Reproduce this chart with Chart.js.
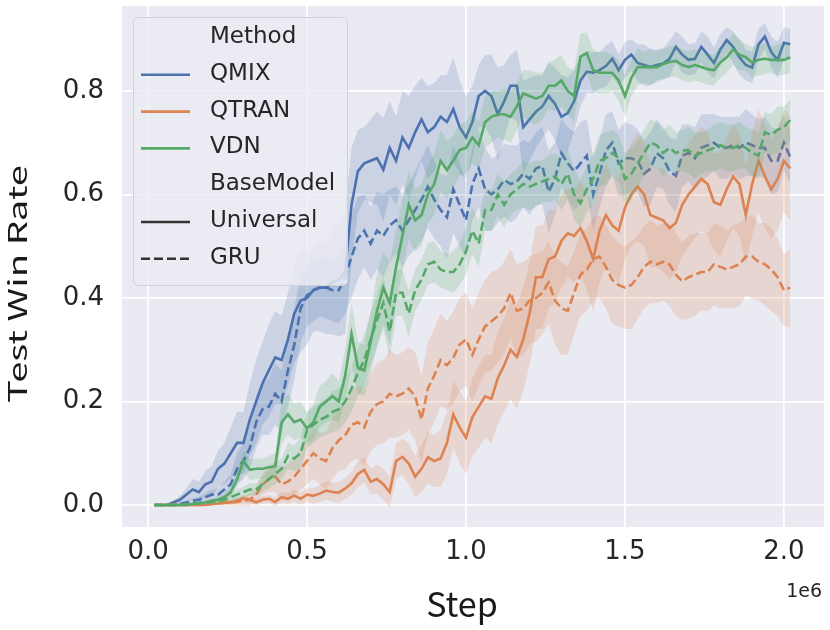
<!DOCTYPE html>
<html>
<head>
<meta charset="utf-8">
<script src="https://cdn.jsdelivr.net/npm/chart.js@4.4.1/dist/chart.umd.min.js"></script>
<style>
html,body{margin:0;padding:0;background:#ffffff;}
#wrap{width:830px;height:630px;}
</style>
</head>
<body>
<div id="wrap"><canvas id="c" width="830" height="630"></canvas></div>
<script>
// ---------------- data ----------------
const steps = [20000,40000,60000,80000,100000,120000,140000,160000,180000,200000,
220000,240000,260000,280000,300000,320000,340000,360000,380000,400000,
420000,440000,460000,480000,500000,520000,540000,560000,580000,600000,
620000,640000,660000,680000,700000,720000,740000,760000,780000,800000,
820000,840000,860000,880000,900000,920000,940000,960000,980000,1000000,
1020000,1040000,1060000,1080000,1100000,1120000,1140000,1160000,1180000,1200000,
1220000,1240000,1260000,1280000,1300000,1320000,1340000,1360000,1380000,1400000,
1420000,1440000,1460000,1480000,1500000,1520000,1540000,1560000,1580000,1600000,
1620000,1640000,1660000,1680000,1700000,1720000,1740000,1760000,1780000,1800000,
1820000,1840000,1860000,1880000,1900000,1920000,1940000,1960000,1980000,2000000,
2020000];

const xTicks = [0, 500000, 1000000, 1500000, 2000000];
const yTicks = [0.0, 0.2, 0.4, 0.6, 0.8];

const methods = ['QMIX', 'QTRAN', 'VDN'];
const baseModels = ['Universal', 'GRU'];

const qmixUniversal = [0,0,0,0.005,0.01,0.02,0.03,0.025,0.04,0.045,
0.07,0.08,0.1,0.12,0.12,0.165,0.2,0.235,0.26,0.285,
0.28,0.32,0.37,0.395,0.4,0.415,0.42,0.42,0.43,0.435,
0.45,0.58,0.645,0.66,0.665,0.67,0.648,0.69,0.665,0.71,
0.69,0.72,0.745,0.72,0.73,0.75,0.74,0.765,0.73,0.71,
0.74,0.79,0.8,0.79,0.755,0.78,0.81,0.81,0.73,0.745,
0.76,0.77,0.79,0.775,0.75,0.757,0.78,0.82,0.837,0.835,
0.84,0.848,0.862,0.84,0.86,0.87,0.854,0.85,0.846,0.85,
0.853,0.862,0.885,0.87,0.86,0.862,0.885,0.87,0.854,0.88,
0.898,0.885,0.865,0.85,0.845,0.89,0.905,0.875,0.86,0.893,
0.89];
const qmixGRU = [0,0,0,0,0.002,0.005,0.008,0.01,0.015,0.02,
0.02,0.03,0.04,0.07,0.085,0.11,0.16,0.185,0.19,0.215,
0.2,0.26,0.31,0.38,0.405,0.415,0.42,0.42,0.415,0.415,
0.44,0.48,0.515,0.53,0.505,0.53,0.52,0.54,0.55,0.53,
0.55,0.57,0.59,0.615,0.59,0.57,0.556,0.61,0.58,0.55,
0.62,0.65,0.61,0.6,0.61,0.628,0.62,0.625,0.64,0.63,
0.65,0.655,0.605,0.63,0.68,0.66,0.645,0.66,0.675,0.6,
0.64,0.685,0.7,0.66,0.67,0.67,0.665,0.64,0.65,0.68,
0.67,0.645,0.636,0.675,0.68,0.67,0.69,0.695,0.7,0.69,
0.69,0.695,0.69,0.7,0.695,0.69,0.69,0.665,0.665,0.7,
0.672];
const qtranUniversal = [0,0,0,0,0,0,0,0,0,0.002,
0.003,0.005,0.005,0.008,0.013,0.01,0.005,0.01,0.012,0.006,
0.015,0.012,0.018,0.012,0.02,0.018,0.022,0.028,0.025,0.024,
0.032,0.042,0.06,0.068,0.045,0.05,0.04,0.025,0.085,0.093,
0.08,0.055,0.07,0.092,0.085,0.09,0.12,0.175,0.15,0.13,
0.17,0.19,0.21,0.205,0.245,0.27,0.3,0.286,0.32,0.37,
0.44,0.44,0.475,0.48,0.51,0.525,0.52,0.535,0.51,0.475,
0.53,0.56,0.54,0.53,0.575,0.6,0.615,0.6,0.56,0.555,
0.55,0.535,0.545,0.58,0.6,0.615,0.63,0.62,0.585,0.58,
0.61,0.635,0.62,0.56,0.62,0.665,0.635,0.61,0.63,0.665,
0.65];
const qtranGRU = [0,0,0,0,0,0,0,0,0,0.002,
0.003,0.004,0.005,0.006,0.008,0.01,0.02,0.04,0.05,0.055,
0.04,0.045,0.055,0.07,0.085,0.1,0.09,0.085,0.11,0.125,
0.135,0.155,0.16,0.15,0.18,0.195,0.2,0.215,0.21,0.215,
0.225,0.21,0.165,0.225,0.25,0.28,0.27,0.285,0.31,0.32,
0.29,0.32,0.345,0.355,0.365,0.38,0.41,0.375,0.38,0.395,
0.4,0.41,0.43,0.395,0.38,0.375,0.41,0.445,0.455,0.475,
0.48,0.46,0.435,0.425,0.42,0.425,0.44,0.46,0.47,0.465,
0.47,0.465,0.445,0.432,0.44,0.445,0.45,0.45,0.465,0.46,
0.455,0.46,0.465,0.48,0.48,0.47,0.465,0.455,0.44,0.415,
0.42];
const vdnUniversal = [0,0,0,0,0,0,0.002,0.003,0.005,0.008,
0.01,0.015,0.025,0.05,0.085,0.068,0.07,0.07,0.073,0.075,
0.16,0.175,0.16,0.165,0.148,0.16,0.19,0.2,0.21,0.2,
0.25,0.33,0.265,0.26,0.315,0.375,0.42,0.39,0.46,0.52,
0.58,0.55,0.56,0.6,0.62,0.665,0.647,0.665,0.686,0.69,
0.71,0.695,0.74,0.75,0.755,0.755,0.75,0.77,0.795,0.79,
0.785,0.79,0.81,0.81,0.82,0.8,0.79,0.866,0.873,0.84,
0.835,0.835,0.835,0.82,0.79,0.825,0.846,0.846,0.846,0.846,
0.852,0.856,0.858,0.85,0.846,0.85,0.846,0.842,0.84,0.855,
0.865,0.88,0.87,0.865,0.855,0.86,0.862,0.86,0.86,0.86,
0.865];
const vdnGRU = [0,0,0,0,0,0.002,0.003,0.004,0.005,0.006,
0.008,0.01,0.015,0.02,0.025,0.03,0.03,0.04,0.05,0.06,
0.07,0.095,0.09,0.1,0.145,0.155,0.165,0.17,0.18,0.185,
0.2,0.225,0.255,0.28,0.32,0.357,0.39,0.335,0.41,0.41,
0.37,0.415,0.435,0.465,0.47,0.455,0.45,0.45,0.465,0.49,
0.53,0.505,0.57,0.57,0.6,0.58,0.6,0.61,0.62,0.615,
0.62,0.625,0.63,0.635,0.62,0.64,0.6,0.583,0.61,0.63,
0.665,0.67,0.68,0.67,0.63,0.64,0.66,0.68,0.7,0.695,
0.68,0.69,0.68,0.685,0.685,0.675,0.68,0.685,0.69,0.695,
0.69,0.69,0.695,0.69,0.68,0.675,0.72,0.715,0.725,0.73,
0.744];

// half-widths of the shaded confidence bands
const qmixUniversalCI = [0.002,0.002,0.003,0.004,0.008,0.012,0.02,0.02,0.025,0.03,
0.035,0.04,0.05,0.06,0.06,0.07,0.08,0.08,0.09,0.09,
0.085,0.09,0.095,0.1,0.09,0.08,0.085,0.09,0.1,0.11,
0.12,0.11,0.08,0.07,0.08,0.09,0.1,0.09,0.085,0.09,
0.1,0.09,0.08,0.09,0.085,0.08,0.09,0.1,0.09,0.08,
0.07,0.06,0.07,0.08,0.09,0.07,0.06,0.07,0.09,0.08,
0.07,0.06,0.065,0.07,0.08,0.07,0.06,0.05,0.04,0.04,
0.035,0.04,0.035,0.03,0.035,0.03,0.035,0.04,0.035,0.03,
0.03,0.035,0.03,0.035,0.03,0.03,0.03,0.035,0.03,0.03,
0.025,0.03,0.035,0.03,0.03,0.03,0.025,0.03,0.035,0.03,
0.03];
const qmixGRUCI = [0.001,0.001,0.002,0.002,0.003,0.004,0.005,0.006,0.008,0.01,
0.012,0.015,0.02,0.03,0.035,0.04,0.05,0.05,0.055,0.06,
0.06,0.07,0.07,0.065,0.06,0.06,0.055,0.06,0.06,0.065,
0.07,0.08,0.08,0.07,0.07,0.075,0.08,0.07,0.065,0.07,
0.07,0.075,0.08,0.08,0.075,0.07,0.08,0.085,0.08,0.075,
0.07,0.075,0.08,0.07,0.065,0.07,0.075,0.07,0.065,0.07,
0.07,0.075,0.08,0.07,0.065,0.07,0.075,0.08,0.07,0.07,
0.065,0.07,0.06,0.065,0.07,0.065,0.06,0.065,0.07,0.065,
0.06,0.065,0.07,0.06,0.055,0.06,0.065,0.06,0.055,0.06,
0.06,0.055,0.06,0.065,0.06,0.055,0.06,0.065,0.06,0.055,
0.05];
const qtranUniversalCI = [0.001,0.001,0.001,0.001,0.001,0.001,0.001,0.001,0.002,0.002,
0.002,0.003,0.004,0.005,0.006,0.006,0.006,0.007,0.008,0.008,
0.01,0.01,0.012,0.012,0.014,0.015,0.016,0.018,0.018,0.02,
0.02,0.022,0.025,0.025,0.025,0.028,0.03,0.03,0.035,0.035,
0.04,0.04,0.045,0.05,0.05,0.055,0.06,0.065,0.07,0.07,
0.075,0.08,0.08,0.085,0.09,0.09,0.095,0.1,0.1,0.1,
0.1,0.1,0.095,0.09,0.09,0.085,0.09,0.09,0.095,0.1,
0.1,0.1,0.095,0.1,0.1,0.1,0.105,0.1,0.1,0.095,
0.1,0.1,0.095,0.1,0.1,0.1,0.1,0.1,0.095,0.1,
0.1,0.1,0.1,0.095,0.1,0.1,0.1,0.095,0.1,0.1,
0.1];
const qtranGRUCI = [0.001,0.001,0.001,0.001,0.001,0.001,0.001,0.002,0.002,0.003,
0.004,0.005,0.006,0.008,0.01,0.012,0.015,0.02,0.025,0.03,
0.03,0.035,0.035,0.04,0.045,0.05,0.05,0.055,0.06,0.06,
0.065,0.07,0.07,0.075,0.075,0.08,0.08,0.085,0.08,0.08,
0.08,0.085,0.085,0.09,0.09,0.09,0.085,0.09,0.09,0.09,
0.09,0.09,0.09,0.095,0.09,0.09,0.085,0.09,0.09,0.085,
0.085,0.08,0.08,0.085,0.09,0.085,0.08,0.08,0.08,0.08,
0.08,0.08,0.085,0.08,0.08,0.085,0.08,0.08,0.08,0.075,
0.075,0.08,0.08,0.075,0.08,0.08,0.075,0.075,0.08,0.08,
0.075,0.08,0.08,0.075,0.08,0.075,0.08,0.08,0.075,0.07,
0.075];
const vdnUniversalCI = [0.001,0.001,0.001,0.002,0.002,0.002,0.003,0.003,0.004,0.005,
0.006,0.008,0.01,0.015,0.02,0.02,0.02,0.02,0.022,0.025,
0.04,0.04,0.035,0.035,0.03,0.035,0.04,0.04,0.045,0.04,
0.05,0.06,0.05,0.05,0.06,0.07,0.07,0.08,0.07,0.07,
0.065,0.06,0.06,0.055,0.06,0.06,0.055,0.05,0.05,0.05,
0.05,0.045,0.05,0.05,0.045,0.05,0.05,0.045,0.045,0.05,
0.05,0.045,0.045,0.05,0.05,0.045,0.05,0.045,0.04,0.04,
0.04,0.04,0.035,0.04,0.04,0.035,0.035,0.03,0.035,0.03,
0.03,0.03,0.03,0.03,0.03,0.03,0.03,0.03,0.03,0.03,
0.03,0.03,0.03,0.025,0.03,0.03,0.03,0.025,0.03,0.03,
0.03];
const vdnGRUCI = [0.001,0.001,0.001,0.001,0.002,0.002,0.002,0.003,0.003,0.004,
0.005,0.006,0.008,0.01,0.01,0.012,0.012,0.015,0.018,0.02,
0.02,0.025,0.025,0.03,0.035,0.035,0.035,0.035,0.04,0.04,
0.04,0.045,0.045,0.05,0.05,0.05,0.05,0.05,0.045,0.045,
0.045,0.04,0.04,0.04,0.04,0.035,0.035,0.04,0.04,0.045,
0.045,0.045,0.04,0.04,0.04,0.045,0.04,0.04,0.045,0.045,
0.045,0.04,0.045,0.045,0.05,0.05,0.05,0.045,0.045,0.05,
0.05,0.05,0.045,0.045,0.05,0.05,0.045,0.045,0.045,0.045,
0.045,0.045,0.04,0.04,0.045,0.045,0.04,0.04,0.045,0.045,
0.045,0.045,0.045,0.04,0.045,0.045,0.04,0.04,0.045,0.04,
0.04];

const legendLabels = ['Method', 'QMIX', 'QTRAN', 'VDN', 'BaseModel', 'Universal', 'GRU'];
const xTitle = 'Step';
const yTitle = 'Test Win Rate';
const offsetText = '1e6';

// ---------------- styles ----------------
const colors = { QMIX: '#4c72b0', QTRAN: '#dd8452', VDN: '#55a868' };
const bandColors = { QMIX: 'rgba(76,114,176,0.2)', QTRAN: 'rgba(221,132,82,0.2)', VDN: 'rgba(85,168,104,0.2)' };
const dashes = { Universal: [], GRU: [9, 4] };

const series = [
  { m: 'QMIX',  b: 'Universal', mean: qmixUniversal,  ci: qmixUniversalCI },
  { m: 'QMIX',  b: 'GRU',       mean: qmixGRU,        ci: qmixGRUCI },
  { m: 'QTRAN', b: 'Universal', mean: qtranUniversal, ci: qtranUniversalCI },
  { m: 'QTRAN', b: 'GRU',       mean: qtranGRU,       ci: qtranGRUCI },
  { m: 'VDN',   b: 'Universal', mean: vdnUniversal,   ci: vdnUniversalCI },
  { m: 'VDN',   b: 'GRU',       mean: vdnGRU,         ci: vdnGRUCI }
];

const datasets = [];
let drawPos = 0;
series.forEach(s => {
  const pts = s.mean.map((v, i) => ({ x: steps[i], y: v }));
  const up = s.mean.map((v, i) => ({ x: steps[i], y: v + s.ci[i] }));
  const lo = s.mean.map((v, i) => ({ x: steps[i], y: v - s.ci[i] }));
  datasets.push({ label: s.m + ' ' + s.b, data: pts, borderColor: colors[s.m], borderWidth: 2.6,
    borderDash: dashes[s.b], pointRadius: 0, fill: false, tension: 0, order: 100 - drawPos++ });
  datasets.push({ label: '_upper', data: up, borderWidth: 0, borderColor: 'rgba(0,0,0,0)',
    pointRadius: 0, fill: false, tension: 0, order: 100 - drawPos++ });
  datasets.push({ label: '_lower', data: lo, borderWidth: 0, borderColor: 'rgba(0,0,0,0)',
    backgroundColor: bandColors[s.m], pointRadius: 0, fill: '-1', tension: 0, order: 100 - drawPos++ });
});

// ---------------- plugins ----------------
const bgPlugin = {
  id: 'bg',
  beforeDraw(chart) {
    const { ctx, chartArea: a } = chart;
    ctx.save();
    ctx.fillStyle = '#ffffff';
    ctx.fillRect(0, 0, chart.width, chart.height);
    ctx.fillStyle = '#eaeaf2';
    ctx.fillRect(a.left, a.top, a.right - a.left, a.bottom - a.top);
    ctx.restore();
  }
};

function roundRect(ctx, x, y, w, h, r) {
  ctx.beginPath();
  ctx.moveTo(x + r, y);
  ctx.lineTo(x + w - r, y);
  ctx.arcTo(x + w, y, x + w, y + r, r);
  ctx.lineTo(x + w, y + h - r);
  ctx.arcTo(x + w, y + h, x + w - r, y + h, r);
  ctx.lineTo(x + r, y + h);
  ctx.arcTo(x, y + h, x, y + h - r, r);
  ctx.lineTo(x, y + r);
  ctx.arcTo(x, y, x + r, y, r);
  ctx.closePath();
}

const legendPlugin = {
  id: 'insideLegend',
  afterDatasetsDraw(chart) {
    const ctx = chart.ctx;
    const handles = [null, colors.QMIX, colors.QTRAN, colors.VDN, null, '#333333', '#333333'];
    const handleDash = [[], [], [], [], [], dashes.Universal, dashes.GRU];
    ctx.save();
    roundRect(ctx, 133.5, 17.5, 214, 268, 5);
    ctx.fillStyle = 'rgba(236,236,243,0.82)';
    ctx.fill();
    ctx.strokeStyle = '#d0d0d6';
    ctx.lineWidth = 1;
    ctx.stroke();
    legendLabels.forEach((t, i) => {
      const y = 37 + i * 36.8;
      if (handles[i]) {
        ctx.beginPath();
        ctx.setLineDash(handleDash[i]);
        ctx.strokeStyle = handles[i];
        ctx.lineWidth = 2.6;
        ctx.moveTo(141, y + 1);
        ctx.lineTo(190, y + 1);
        ctx.stroke();
        ctx.setLineDash([]);
      }
      ctx.fillStyle = '#262626';
      ctx.font = '23px "DejaVu Sans"';
      ctx.textAlign = 'left';
      ctx.textBaseline = 'middle';
      ctx.fillText(t, 210, y);
    });
    ctx.restore();
  }
};

const titlePlugin = {
  id: 'titles',
  afterDraw(chart) {
    const ctx = chart.ctx;
    ctx.save();
    ctx.fillStyle = '#1a1a1a';
    ctx.font = '34px "Noto Sans CJK SC"';
    ctx.textAlign = 'center';
    ctx.textBaseline = 'alphabetic';
    ctx.fillText(xTitle, 462, 617);

    ctx.font = '19px "DejaVu Sans"';
    ctx.fillStyle = '#262626';
    ctx.textAlign = 'right';
    ctx.fillText(offsetText, 822, 597);

    ctx.fillStyle = '#1a1a1a';
    ctx.font = '25px "Noto Sans CJK SC"';
    const w = ctx.measureText(yTitle).width;
    ctx.translate(17, 284);
    ctx.rotate(-Math.PI / 2);
    ctx.scale(238 / w, 1);
    ctx.textAlign = 'center';
    ctx.textBaseline = 'middle';
    ctx.fillText(yTitle, 0, 0);
    ctx.restore();
  }
};

function zeroPad(s) {
  s.paddingTop = 0; s.paddingBottom = 0; s.paddingLeft = 0; s.paddingRight = 0;
}

// ---------------- chart ----------------
new Chart(document.getElementById('c'), {
  type: 'line',
  data: { datasets },
  options: {
    responsive: false,
    devicePixelRatio: 1,
    animation: false,
    events: [],
    layout: { padding: { left: 0, right: 6, top: 6, bottom: 0 } },
    plugins: {
      legend: { display: false },
      tooltip: { enabled: false },
      filler: { propagate: false }
    },
    scales: {
      x: {
        type: 'linear',
        min: -82000,
        max: 2126000,
        afterBuildTicks: s => { s.ticks = xTicks.map(v => ({ value: v })); },
        afterFit: s => { s.height = 103; zeroPad(s); },
        grid: { color: '#ffffff', lineWidth: 1.8, drawTicks: false },
        border: { display: false },
        ticks: {
          padding: 10,
          color: '#262626',
          font: { family: 'DejaVu Sans', size: 26 },
          maxRotation: 0,
          callback: v => (v / 1e6).toFixed(1)
        }
      },
      y: {
        type: 'linear',
        min: -0.0425,
        max: 0.964,
        afterBuildTicks: s => { s.ticks = yTicks.map(v => ({ value: v })); },
        afterFit: s => { s.width = 122; zeroPad(s); },
        grid: { color: '#ffffff', lineWidth: 1.8, drawTicks: false },
        border: { display: false },
        ticks: {
          padding: 18,
          color: '#262626',
          font: { family: 'DejaVu Sans', size: 26 },
          callback: v => v.toFixed(1)
        }
      }
    }
  },
  plugins: [bgPlugin, legendPlugin, titlePlugin]
});
</script>
</body>
</html>
